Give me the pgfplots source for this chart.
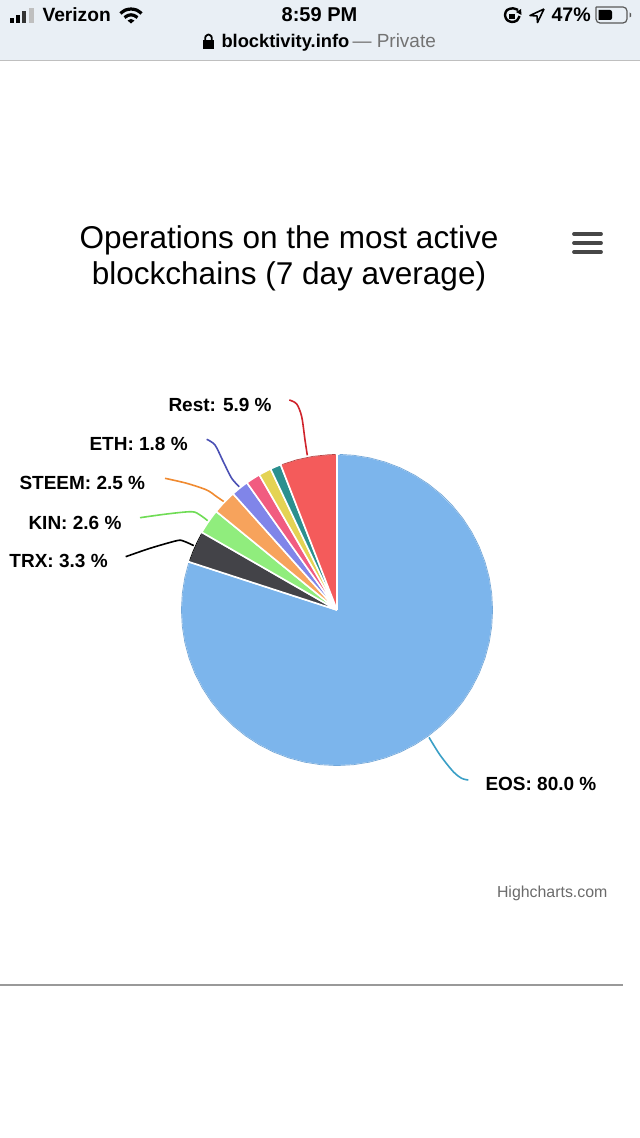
\documentclass[border=0pt]{standalone}
\usepackage{fontspec}
\setmainfont{Liberation Sans}
\usepackage{pgfplots}
\pgfplotsset{compat=1.18}
\definecolor{cEOS}{HTML}{7CB5EC}
\definecolor{cTRX}{HTML}{434348}
\definecolor{cKIN}{HTML}{90ED7D}
\definecolor{cSTEEM}{HTML}{F7A35C}
\definecolor{cETH}{HTML}{8085E9}
\definecolor{cPINK}{HTML}{F15C80}
\definecolor{cYEL}{HTML}{E4D354}
\definecolor{cTEAL}{HTML}{2B908F}
\definecolor{cREST}{HTML}{F45B5B}
\definecolor{barbg}{HTML}{E9EFF5}
\definecolor{lEOS}{HTML}{3A9FC6}
\definecolor{lETH}{HTML}{4A50B4}
\definecolor{lKIN}{HTML}{6FDC55}
\definecolor{lSTEEM}{HTML}{F08A30}
\definecolor{lREST}{HTML}{D0242C}
\pgfplotsset{
  page/.style={hide axis,scale only axis,width=320pt,height=569pt,
    enlargelimits=false,clip=false,at={(0,0)},anchor=south west},
  wedge/.style={data cs=polar,draw=white,line width=0.8pt,line join=round,forget plot},
  rim/.style={data cs=polar,line width=0.35pt,no markers,forget plot},
  conn/.style={smooth,no markers,line width=0.8pt,forget plot},
}
\newcommand{\lab}[1]{\fontsize{9.5}{11}\selectfont\bfseries #1}
\tikzset{txt/.style={anchor=base west,inner sep=0pt,outer sep=0pt}}
\begin{document}
\begin{tikzpicture}
\path[use as bounding box] (0,0) rectangle (320pt,569pt);
% page furniture and labels, in reference pixels
\begin{axis}[page,xmin=0,xmax=640,ymin=0,ymax=1138,y dir=reverse]
\addplot[fill=white,draw=none] coordinates {(0,0)(640,0)(640,1138)(0,1138)};
\addplot[fill=barbg,draw=none] coordinates {(0,0)(640,0)(640,60)(0,60)};
\addplot[color=black!25,line width=0.5pt] coordinates {(0,60.5)(640,60.5)};
\addplot[color=black!40,line width=0.6pt] coordinates {(0,985)(623,985)};
% signal bars
\addplot[fill=black,draw=none] coordinates {(10,18.5)(13.5,18.5)(13.5,23)(10,23)};
\addplot[fill=black,draw=none] coordinates {(16,15)(19.5,15)(19.5,23)(16,23)};
\addplot[fill=black!80,draw=none] coordinates {(22,11)(26,11)(26,23)(22,23)};
\addplot[fill=black!25,draw=none] coordinates {(28.5,8)(34,8)(34,23)(28.5,23)};
% wifi
\addplot[smooth,line width=1.6pt,black] coordinates {(120.5,13.5)(125,10.2)(131,9)(137,10.2)(141.5,13.5)};
\addplot[smooth,line width=1.6pt,black] coordinates {(124.5,17.5)(128,15.4)(131,14.8)(134,15.4)(137.5,17.5)};
\addplot[fill=black,draw=none] coordinates {(127.5,20.5)(131,19)(134.5,20.5)(131,23.5)};
% lock in the address bar
\addplot[fill=black,draw=none] coordinates {(203,40)(214,40)(214,49)(203,49)};
\addplot[smooth,line width=0.9pt,black] coordinates {(205.3,40)(205.5,36.5)(208.5,34.5)(211.5,36.5)(211.7,40)};
% orientation lock and location arrow
\addplot[smooth,line width=1.2pt,black] coordinates {(518,10)(513,8.3)(507,10)(505,15)(507,20)(512,22)(517,20.5)(519.5,16)};
\addplot[fill=black,draw=none] coordinates {(516,12)(521,9)(521.5,15)};
\addplot[fill=black,draw=none] coordinates {(508.5,14)(514.5,14)(514.5,19)(508.5,19)};
\addplot[line width=0.8pt,black,line join=round] coordinates {(544,9)(530,15.5)(537,16)(537.5,22.5)(544,9)};
% battery
\addplot[draw=black!65,line width=0.6pt,rounded corners=2pt] coordinates {(596,7)(627,7)(627,23)(596,23)(596,7)};
\addplot[fill=black,draw=none,rounded corners=1pt] coordinates {(598.5,10)(612,10)(612,20)(598.5,20)};
\addplot[fill=black!65,draw=none] coordinates {(629.5,12.5)(631,13.5)(631,16.5)(629.5,17.5)};
% menu button
\addplot[line width=1.9pt,line cap=round,color=black!72] coordinates {(574,234)(601,234)};
\addplot[line width=1.9pt,line cap=round,color=black!72] coordinates {(574,243)(601,243)};
\addplot[line width=1.9pt,line cap=round,color=black!72] coordinates {(574,252)(601,252)};
% connectors
\addplot[conn,color=lREST] coordinates {(289.3,400)(296.7,404)(301.7,416.7)(305,440)(307.3,455.3)};
\addplot[conn,color=lETH] coordinates {(206.7,439.3)(215,445)(223.3,461.7)(231.7,478.3)(239.3,486.7)};
\addplot[conn,color=lSTEEM] coordinates {(165,478.3)(186.7,483.3)(206.7,490)(216.7,496.7)(224,501.7)};
\addplot[conn,color=lKIN] coordinates {(140,517.7)(166.7,514)(191.7,511.7)(200,515)(207.7,520.7)};
\addplot[conn,color=black] coordinates {(125.7,556.7)(150,548.3)(176.7,540.7)(183.3,541)(194,545.7)};
\addplot[conn,color=lEOS] coordinates {(429,737.3)(440,755)(453.3,771.7)(461.7,778.3)(468.3,780)};
% text
\node[txt,font=\fontsize{9.6}{11}\selectfont\bfseries] at (axis cs:42.5,22) {Verizon};
\node[txt,font=\fontsize{10}{11}\selectfont\bfseries,anchor=base] at (axis cs:319.5,22) {8:59 PM};
\node[txt,font=\fontsize{9.8}{11}\selectfont\bfseries] at (axis cs:551.5,22) {47\%};
\node[txt,font=\fontsize{9.15}{11}\selectfont\bfseries] at (axis cs:221.5,48) {blocktivity.info};
\node[txt,font=\fontsize{9.5}{11}\selectfont,text=black!55] at (axis cs:352.5,48) {— Private};
\node[txt,font=\fontsize{15.76}{18}\selectfont,anchor=base] at (axis cs:289,248) {Operations on the most active};
\node[txt,font=\fontsize{15.76}{18}\selectfont,anchor=base] at (axis cs:289,284.5) {blockchains (7 day average)};
\node[txt] at (axis cs:168.5,411.5) {\lab{Rest: 5.9 \%}};
\node[txt] at (axis cs:89.5,450.5) {\lab{ETH: 1.8 \%}};
\node[txt] at (axis cs:19.5,489.5) {\lab{STEEM: 2.5 \%}};
\node[txt] at (axis cs:28.5,529.5) {\lab{KIN: 2.6 \%}};
\node[txt] at (axis cs:9.5,567.5) {\lab{TRX: 3.3 \%}};
\node[txt] at (axis cs:485.5,790.5) {\lab{EOS: 80.0 \%}};
\node[txt,font=\fontsize{7.95}{10}\selectfont,text=black!58] at (axis cs:497,897) {Highcharts.com};
\end{axis}
% the pie: angle in degrees, radius in reference pixels, centre at (337,610)
\begin{axis}[page,xmin=-337,xmax=303,ymin=-528,ymax=610]
\addplot[wedge,fill=cEOS] coordinates {(0,0)(90,156)(84,156)(78,156)(72,156)(66,156)(60,156)(54,156)(48,156)(42,156)(36,156)(30,156)(24,156)(18,156)(12,156)(6,156)(0,156)(-6,156)(-12,156)(-18,156)(-24,156)(-30,156)(-36,156)(-42,156)(-48,156)(-54,156)(-60,156)(-66,156)(-72,156)(-78,156)(-84,156)(-90,156)(-96,156)(-102,156)(-108,156)(-114,156)(-120,156)(-126,156)(-132,156)(-138,156)(-144,156)(-150,156)(-156,156)(-162,156)(-168,156)(-174,156)(-180,156)(-186,156)(-192,156)(-198,156)(0,0)};
\addplot[wedge,fill=cTRX] coordinates {(0,0)(162,156)(160,156)(158,156)(156,156)(154,156)(152,156)(150.1,156)(0,0)};
\addplot[wedge,fill=cKIN] coordinates {(0,0)(150.1,156)(148,156)(146,156)(144,156)(142,156)(140.8,156)(0,0)};
\addplot[wedge,fill=cSTEEM] coordinates {(0,0)(140.8,156)(138,156)(136,156)(134,156)(131.8,156)(0,0)};
\addplot[wedge,fill=cETH] coordinates {(0,0)(131.8,156)(129,156)(127,156)(125.3,156)(0,0)};
\addplot[wedge,fill=cPINK] coordinates {(0,0)(125.3,156)(123,156)(121,156)(119.9,156)(0,0)};
\addplot[wedge,fill=cYEL] coordinates {(0,0)(119.9,156)(118,156)(116,156)(115.2,156)(0,0)};
\addplot[wedge,fill=cTEAL] coordinates {(0,0)(115.2,156)(113,156)(111.2,156)(0,0)};
\addplot[wedge,fill=cREST] coordinates {(0,0)(111.2,156)(108,156)(105,156)(102,156)(99,156)(96,156)(93,156)(90,156)(0,0)};
% slightly darker rims, as the screenshot shows them
\addplot[rim,color=cEOS!92!black] coordinates {(89,155.6)(84,155.6)(78,155.6)(72,155.6)(66,155.6)(60,155.6)(54,155.6)(48,155.6)(42,155.6)(36,155.6)(30,155.6)(24,155.6)(18,155.6)(12,155.6)(6,155.6)(0,155.6)(-6,155.6)(-12,155.6)(-18,155.6)(-24,155.6)(-30,155.6)(-36,155.6)(-42,155.6)(-48,155.6)(-54,155.6)(-60,155.6)(-66,155.6)(-72,155.6)(-78,155.6)(-84,155.6)(-90,155.6)(-96,155.6)(-102,155.6)(-108,155.6)(-114,155.6)(-120,155.6)(-126,155.6)(-132,155.6)(-138,155.6)(-144,155.6)(-150,155.6)(-156,155.6)(-162,155.6)(-168,155.6)(-174,155.6)(-180,155.6)(-186,155.6)(-192,155.6)(-197.5,155.6)};
\addplot[rim,color=black] coordinates {(161.5,155.5)(158,155.5)(154,155.5)(150.6,155.5)};
\addplot[rim,color=cREST!75!black] coordinates {(110.7,155.5)(105,155.5)(99,155.5)(93,155.5)(90.5,155.5)};
\end{axis}
\end{tikzpicture}
\end{document}
